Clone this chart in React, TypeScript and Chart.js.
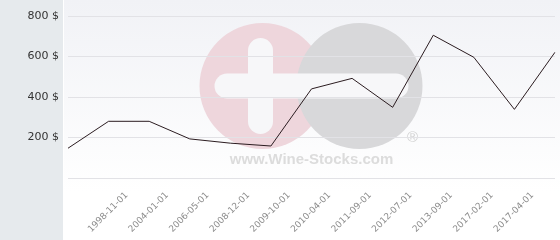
import { useEffect, useRef } from 'react';
import { Chart, registerables } from 'chart.js';

Chart.register(...registerables);

const dates = ['', '1998-11-01', '2004-01-01', '2006-05-01', '2008-12-01', '2009-10-01', '2010-04-01', '2011-09-01', '2012-07-01', '2013-09-01', '2017-02-01', '2017-04-01', ''];
const prices = [147, 280, 280, 193, 172, 158, 440, 492, 349, 705, 596, 339, 621];
const yMin = 0;
const yMax = 800;
const yStep = 200;

const backgroundPlugin = {
  id: 'bgWatermark',
  beforeDraw(chart: any) {
    const { ctx, width, height, chartArea } = chart;
    ctx.save();
    const g = ctx.createLinearGradient(0, 0, 0, height);
    g.addColorStop(0, '#f1f2f6');
    g.addColorStop(0.8, '#ffffff');
    g.addColorStop(1, '#ffffff');
    ctx.fillStyle = g;
    ctx.fillRect(0, 0, width, height);
    ctx.fillStyle = '#e6eaed';
    ctx.fillRect(0, 0, chartArea.left - 5, height);
    ctx.fillStyle = '#ffffff';
    ctx.fillRect(chartArea.left - 5, 0, 1, height);

    // watermark
    const cx = (chartArea.left + chartArea.right) / 2;
    const cy = (chartArea.top + chartArea.bottom) / 2;
    const r = 63;
    ctx.fillStyle = '#eed6dc';
    ctx.beginPath();
    ctx.arc(cx - 49, cy - 11, r, 0, Math.PI * 2);
    ctx.fill();
    ctx.fillStyle = '#d8d8da';
    ctx.beginPath();
    ctx.arc(cx + 48, cy - 11, r, 0, Math.PI * 2);
    ctx.fill();
    ctx.fillStyle = '#f7f7f9';
    const bw = 25;
    ctx.beginPath();
    ctx.roundRect(cx - 97, cy - 11 - bw / 2, 194, bw, bw / 2);
    ctx.fill();
    ctx.beginPath();
    ctx.roundRect(cx - 51 - bw / 2, cy - 11 - 48, bw, 96, bw / 2);
    ctx.fill();
    ctx.fillStyle = '#dcdcdc';
    ctx.font = 'bold 15px "Liberation Sans", Arial, sans-serif';
    ctx.textAlign = 'center';
    ctx.textBaseline = 'middle';
    ctx.fillText('www.Wine-Stocks.com', cx, cy + 63);
    ctx.font = '15px "Liberation Sans", Arial, sans-serif';
    ctx.fillStyle = '#d2d2d2';
    ctx.fillText('®', cx + 101, cy + 41);
    ctx.restore();
  },
};

export default function App() {
  const ref = useRef<HTMLCanvasElement>(null);
  useEffect(() => {
    const chart = new Chart(ref.current as HTMLCanvasElement, {
      type: 'line',
      data: {
        labels: dates,
        datasets: [
          {
            data: prices,
            borderColor: '#2b1c20',
            borderWidth: 1,
            pointRadius: 0,
            tension: 0,
            fill: false,
          },
        ],
      },
      options: {
        responsive: false,
        animation: false,
        layout: { padding: { top: 16, right: 5, left: 0, bottom: 0 } },
        plugins: { legend: { display: false }, tooltip: { enabled: false } },
        scales: {
          x: {
            offset: false,
            grid: { display: false, drawTicks: false },
            border: { display: false },
            ticks: {
              autoSkip: false,
              maxRotation: 45,
              minRotation: 45,
              labelOffset: 18,
              padding: 12,
              color: '#8c8c8c',
              font: { family: '"DejaVu Sans", Verdana, sans-serif', size: 9 },
            },
            afterFit(scale: any) {
              scale.height = 62;
              scale.paddingLeft = 0;
              scale.paddingRight = 0;
            },
          },
          y: {
            min: yMin,
            max: yMax,
            grid: { color: '#e2e2e6', drawTicks: false },
            border: { display: false },
            ticks: {
              stepSize: yStep,
              padding: 9,
              color: '#333333',
              font: { family: '"DejaVu Sans", Verdana, sans-serif', size: 11 },
              callback: (v: any) => (v === 0 ? '' : `${v} $`),
            },
            afterFit(scale: any) {
              scale.width = 68;
              scale.paddingTop = 0;
              scale.paddingBottom = 0;
            },
          },
        },
      },
      plugins: [backgroundPlugin],
    });
    return () => chart.destroy();
  }, []);
  return (
    <div style={{ position: 'fixed', left: 0, top: 0, width: 560, height: 240 }}>
      <canvas ref={ref} width={560} height={240} style={{ display: 'block' }} />
    </div>
  );
}
